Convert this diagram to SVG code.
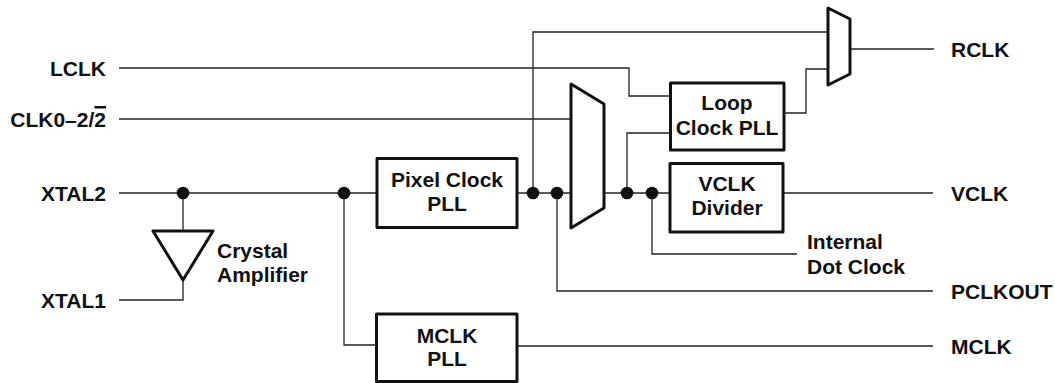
<svg xmlns="http://www.w3.org/2000/svg" width="1055" height="383" viewBox="0 0 1055 383">
<style>
  text { font-family: "Liberation Sans", Arial, Helvetica, sans-serif; font-weight: bold; font-size: 21px; fill: #111; }
  .end { text-anchor: end; }
  .mid { text-anchor: middle; }
  .box { fill: #fff; stroke: #111; stroke-width: 3; stroke-linejoin: round; }
  .wire { fill: none; stroke: #222; stroke-width: 1.3; }
  .dot { fill: #111; }
</style>
<rect width="1055" height="383" fill="#fff"/>
<g id="connectors">
  <path class="wire" d="M119 68 H629 V96 H670"/>
  <path class="wire" d="M119 119 H571"/>
  <path class="wire" d="M119 193 H377"/>
  <path class="wire" d="M183 193 V231"/>
  <path class="wire" d="M183 280 V300 H119"/>
  <path class="wire" d="M344 193 V345 H376"/>
  <path class="wire" d="M517 193 H571"/>
  <path class="wire" d="M533 193 V32 H828"/>
  <path class="wire" d="M557 193 V291 H933"/>
  <path class="wire" d="M604 193 H670"/>
  <path class="wire" d="M627 193 V133 H670"/>
  <path class="wire" d="M652 193 V254 H797"/>
  <path class="wire" d="M784 113 H806 V69 H828"/>
  <path class="wire" d="M850 49 H934"/>
  <path class="wire" d="M783 193 H933"/>
  <path class="wire" d="M517 346 H933"/>
  <circle class="dot" cx="183" cy="193" r="6.3"/>
  <circle class="dot" cx="344" cy="193" r="6.3"/>
  <circle class="dot" cx="533" cy="193" r="6.3"/>
  <circle class="dot" cx="557" cy="193" r="6.3"/>
  <circle class="dot" cx="627" cy="193" r="6.3"/>
  <circle class="dot" cx="652" cy="193" r="6.3"/>
</g>
<g id="labels">
  <text class="end" x="106" y="75.5">LCLK</text>
  <text class="end" x="106" y="126.5">CLK0–2/2</text>
  <rect x="94.5" y="106" width="11.5" height="2.5" fill="#111"/>
  <text class="end" x="106" y="200.5">XTAL2</text>
  <text class="end" x="106" y="307.5">XTAL1</text>
  <text x="951" y="56.5">RCLK</text>
  <text x="951" y="200.5">VCLK</text>
  <text x="951" y="298.5">PCLKOUT</text>
  <text x="951" y="353.5">MCLK</text>
  <text x="807" y="249">Internal</text>
  <text x="807" y="273.5">Dot Clock</text>
</g>
<g id="crystal-amplifier">
  <polygon class="box" points="153,231 213,231 183,280"/>
  <text x="217" y="258">Crystal</text>
  <text x="217" y="281.5">Amplifier</text>
</g>
<g id="pixel-clock-pll">
  <rect class="box" x="377" y="158.5" width="140" height="69"/>
  <text class="mid" x="447" y="187">Pixel Clock</text>
  <text class="mid" x="447" y="211">PLL</text>
</g>
<g id="mclk-pll">
  <rect class="box" x="376.5" y="314" width="140.5" height="67.5"/>
  <text class="mid" x="447" y="342.5">MCLK</text>
  <text class="mid" x="447" y="366">PLL</text>
</g>
<g id="clock-mux">
  <polygon class="box" points="571,84 604,104 604,208 571,228"/>
</g>
<g id="loop-clock-pll">
  <rect class="box" x="670.5" y="83" width="113.5" height="67"/>
  <text class="mid" x="727" y="110">Loop</text>
  <text class="mid" x="727" y="134.5">Clock PLL</text>
</g>
<g id="vclk-divider">
  <rect class="box" x="670" y="163.5" width="113" height="68.5"/>
  <text class="mid" x="727" y="191">VCLK</text>
  <text class="mid" x="727" y="215">Divider</text>
</g>
<g id="rclk-mux">
  <polygon class="box" points="828,8 850,19 850,74 828,85"/>
</g>
</svg>
